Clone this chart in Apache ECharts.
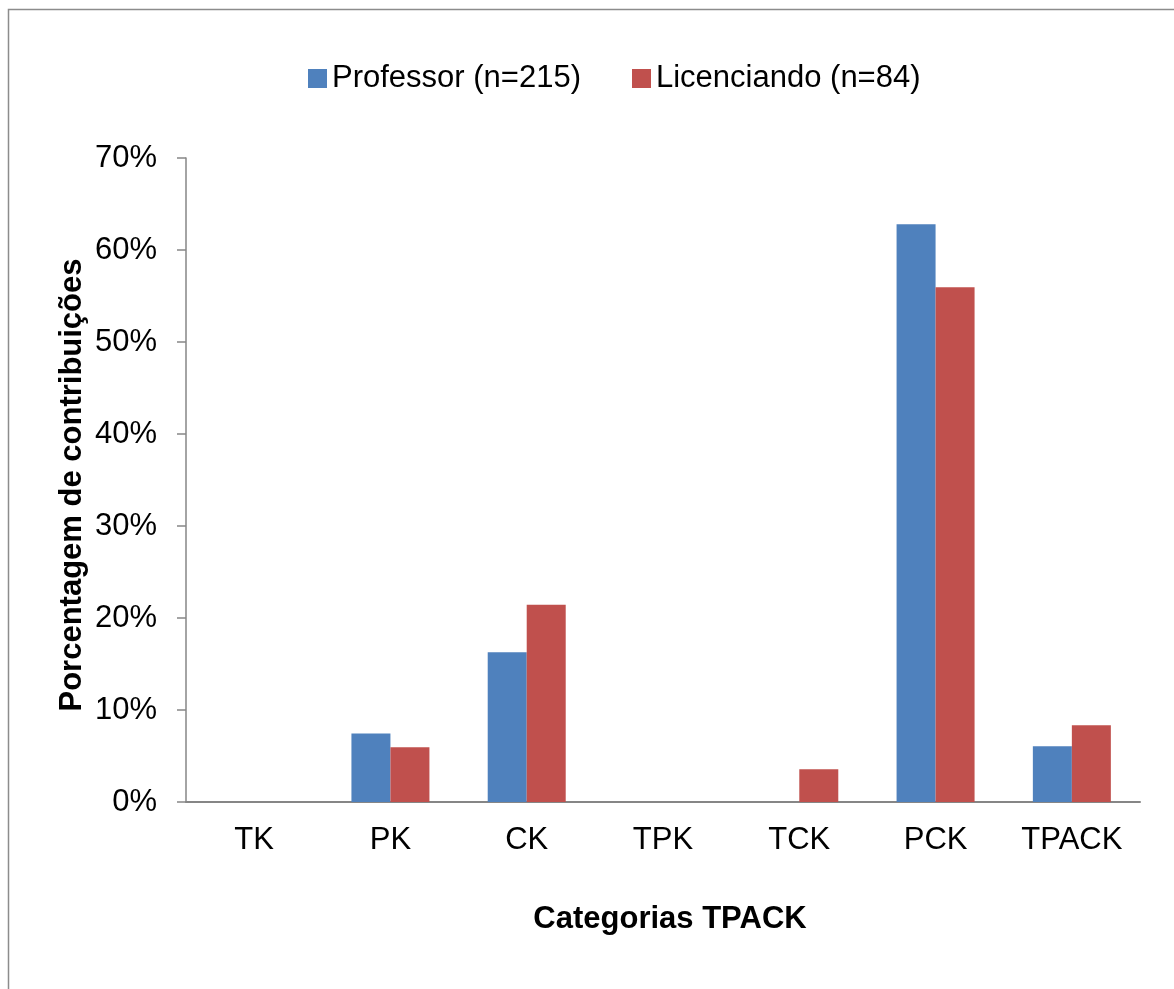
<!DOCTYPE html>
<html>
<head>
<meta charset="utf-8">
<script src="https://cdn.jsdelivr.net/npm/echarts@6/dist/echarts.min.js"></script>
<style>
  html, body { margin: 0; padding: 0; background: #fff; }
  #chart { width: 1174px; height: 989px; }
</style>
</head>
<body>
<div id="chart"></div>
<script>
// TPACK categories and share of contributions (%) for each group
const categories = ['TK', 'PK', 'CK', 'TPK', 'TCK', 'PCK', 'TPACK'];
const professor = [0, 7.44, 16.28, 0, 0, 62.79, 6.05];
const licenciando = [0, 5.95, 21.43, 0, 3.57, 55.95, 8.33];
const seriesNames = ['Professor (n=215)', 'Licenciando (n=84)'];
const yTicks = [0, 10, 20, 30, 40, 50, 60, 70];

const FONT = '"Liberation Sans", Arial, sans-serif';
const AXIS_GREY = '#868686';

const chart = echarts.init(document.getElementById('chart'), null, { renderer: 'canvas' });

chart.setOption({
  animation: false,
  backgroundColor: '#ffffff',
  textStyle: { fontFamily: FONT },
  color: ['#4F81BD', '#C0504D'],
  legend: {
    data: seriesNames,
    left: 303,
    top: 58,
    itemWidth: 19,
    itemHeight: 19,
    itemGap: 51,
    icon: 'rect',
    textStyle: { fontSize: 31, color: '#000', fontFamily: FONT }
  },
  grid: { left: 186, right: 34, top: 158, bottom: 187, containLabel: false },
  xAxis: {
    type: 'category',
    data: categories,
    axisLine: { lineStyle: { color: AXIS_GREY, width: 2 } },
    axisTick: { show: false },
    axisLabel: { fontSize: 31, color: '#000', margin: 23, fontFamily: FONT }
  },
  yAxis: {
    type: 'value',
    min: yTicks[0],
    max: yTicks[yTicks.length - 1],
    interval: 10,
    axisLine: { show: true, lineStyle: { color: AXIS_GREY, width: 1.5 } },
    axisTick: { show: true, inside: false, length: 9, lineStyle: { color: AXIS_GREY, width: 1.5 } },
    splitLine: { show: false },
    axisLabel: {
      fontSize: 31, color: '#000', margin: 29, fontFamily: FONT,
      formatter: v => v + '%'
    }
  },
  series: [
    {
      name: seriesNames[0],
      type: 'bar',
      data: professor,
      barWidth: 39,
      barGap: '0%'
    },
    {
      name: seriesNames[1],
      type: 'bar',
      data: licenciando,
      barWidth: 39,
      barGap: '0%'
    }
  ],
  graphic: [
    {
      // outer chart frame
      type: 'rect',
      shape: { x: 8.5, y: 9.5, width: 1200, height: 1000 },
      style: { fill: 'none', stroke: '#8c8c8c', lineWidth: 1.5 },
      silent: true
    },
    {
      type: 'text',
      x: 670,
      y: 919,
      style: {
        text: 'Categorias TPACK',
        font: 'bold 31px ' + FONT,
        fill: '#000',
        align: 'center',
        verticalAlign: 'middle'
      }
    },
    {
      type: 'text',
      x: 72,
      y: 485,
      rotation: Math.PI / 2,
      style: {
        text: 'Porcentagem de contribuições',
        font: 'bold 31px ' + FONT,
        fill: '#000',
        align: 'center',
        verticalAlign: 'middle'
      }
    }
  ]
});
</script>
</body>
</html>
